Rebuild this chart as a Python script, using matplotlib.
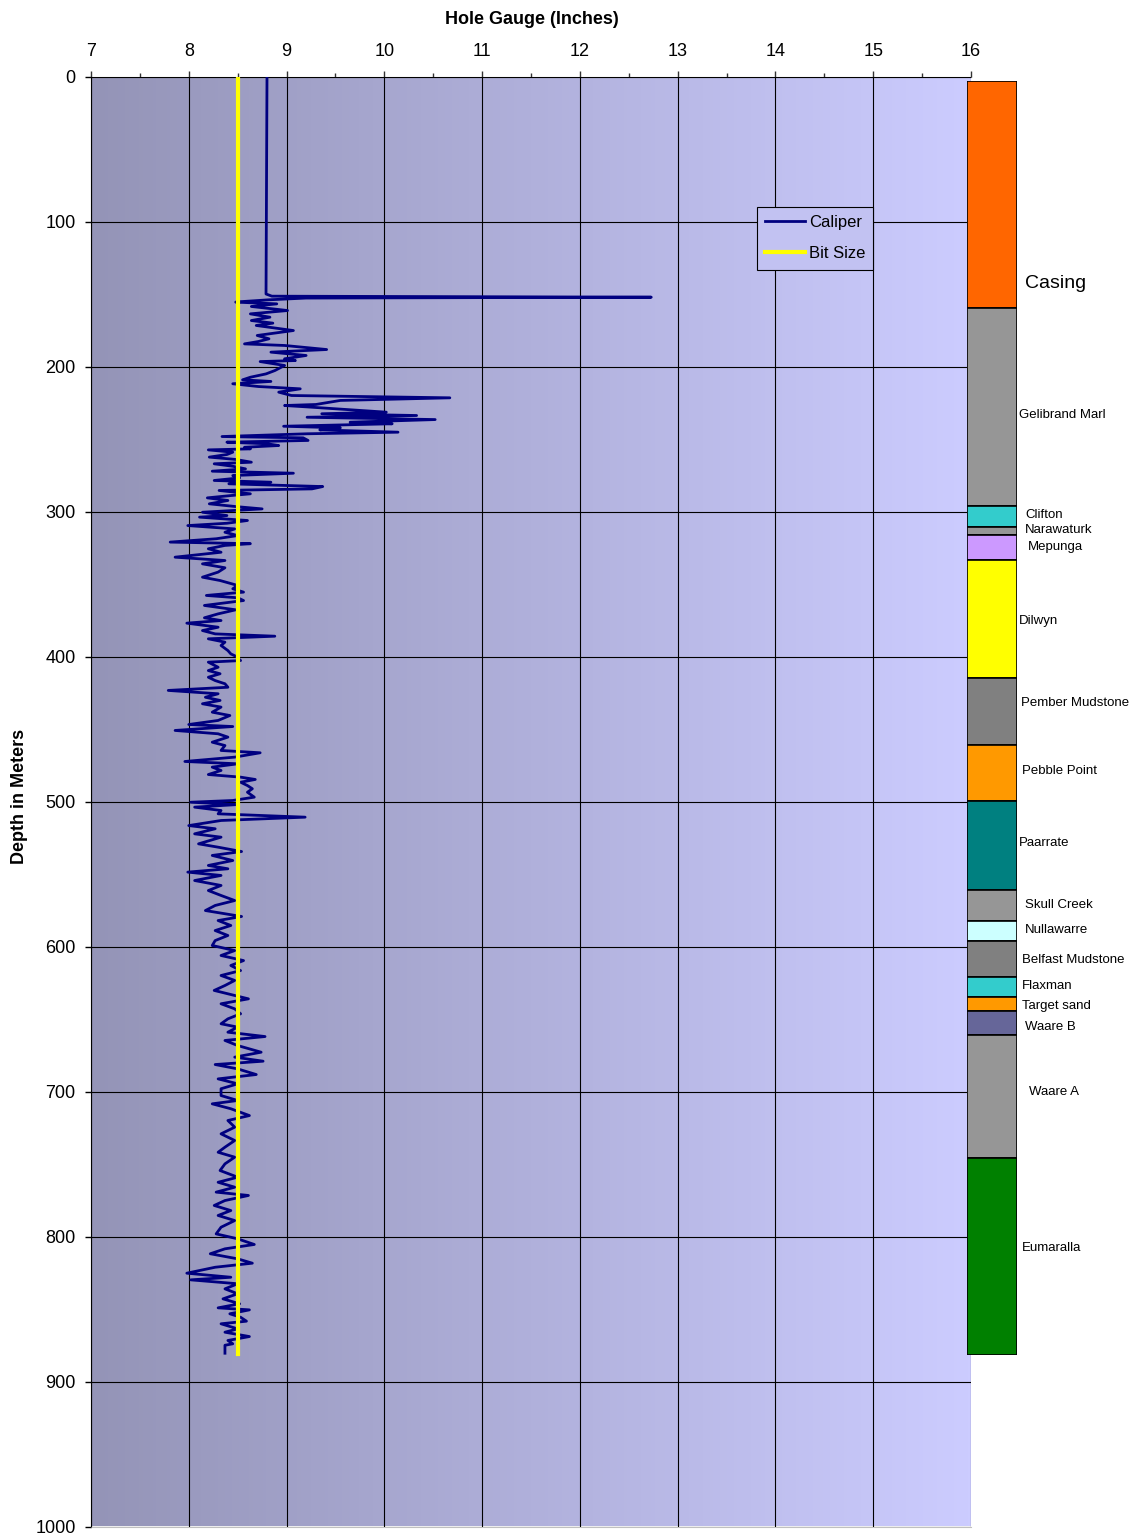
import numpy as np
import matplotlib
matplotlib.use("Agg")
import matplotlib.pyplot as plt

plt.rcParams['font.family'] = ['Liberation Sans', 'DejaVu Sans']

# caliper log: depth (m) and hole gauge (inches)
caliper_depth = [
    0, 150, 151.5, 152.2, 152.8, 154.0, 155.2, 155.6, 156.8, 158.6, 161.4, 163.7, 166.0, 168.3,
    170.1, 171.7, 175.2, 178.6, 180.9, 182.8, 184.4, 185.5, 188.3, 190.1, 192.4, 194.7, 195.9,
    196.6, 199.3, 202.8, 205.1, 207.4, 209.2, 210.3, 211.9, 213.8, 215.4, 217.7, 220.0, 221.6,
    223.4, 226.2, 226.9, 228.0, 231.5, 232.6, 233.8, 235.0, 236.6, 238.4, 239.5, 241.2, 242.3,
    243.7, 245.3, 246.4, 248.3, 249.2, 251.0, 252.2, 253.3, 254.5, 255.7, 256.8, 257.5, 259.1,
    260.7, 262.5, 264.1, 266.0, 267.1, 268.8, 270.6, 272.2, 273.6, 275.2, 276.8, 278.6, 279.8,
    280.9, 282.8, 284.4, 285.5, 287.8, 289.0, 290.6, 292.4, 294.7, 296.6, 298.2, 300.5, 302.8,
    303.9, 306.2, 308.1, 309.7, 312.0, 314.3, 316.6, 318.8, 321.1, 322.2, 323.4, 325.7, 328.1,
    331.5, 333.8, 336.1, 338.8, 341.8, 345.3, 347.6, 351.0, 353.3, 355.6, 357.9, 359.5, 361.4,
    364.8, 367.8, 370.6, 373.3, 375.2, 377.0, 379.8, 382.1, 384.4, 386.0, 387.8, 390.1, 392.4,
    395.9, 398.2, 399.8, 402.8, 403.9, 407.4, 409.7, 411.9, 414.3, 416.6, 418.8, 421.2, 423.4,
    425.7, 428.1, 430.3, 432.6, 434.9, 438.4, 440.7, 444.1, 446.9, 448.3, 451.0, 453.3, 455.6,
    459.1, 461.4, 464.8, 466.4, 469.4, 472.4, 474.0, 476.3, 478.6, 481.4, 483.2, 484.8, 486.7,
    489.0, 491.2, 493.6, 497.0, 499.3, 500.5, 502.1, 503.9, 506.2, 508.5, 510.8, 513.1, 516.6,
    518.8, 522.3, 524.6, 529.2, 531.5, 534.5, 537.2, 540.7, 544.1, 546.4, 548.7, 551.0, 554.5,
    557.9, 561.4, 564.8, 568.3, 571.7, 575.2, 579.3, 582.1, 585.5, 589.0, 592.4, 595.9, 599.3,
    602.8, 606.2, 609.7, 613.1, 616.6, 620.0, 623.4, 626.9, 630.3, 633.8, 636.1, 639.5, 643.0,
    646.4, 649.9, 653.3, 655.6, 659.1, 662.1, 664.8, 668.3, 672.9, 676.3, 679.1, 681.4, 684.4,
    688.3, 691.3, 694.7, 698.1, 702.8, 706.2, 708.5, 711.9, 716.6, 720.0, 724.6, 729.2, 733.8,
    738.4, 741.9, 745.3, 749.9, 754.5, 759.1, 762.6, 766.0, 769.4, 771.7, 775.2, 778.6, 782.1,
    785.5, 789.0, 793.6, 798.2, 801.6, 805.5, 808.5, 811.9, 815.4, 818.4, 821.2, 825.3, 828.1,
    829.9, 832.6, 836.1, 839.5, 843.0, 846.4, 849.2, 850.6, 853.3, 855.7, 858.4, 860.2, 863.7,
    866.0, 869.0, 871.7, 874.0, 875.0, 880.5,
]
caliper_gauge = [
    8.80, 8.79, 8.85, 12.73, 9.20, 8.82, 8.55, 8.48, 8.90, 8.64, 9.01, 8.63, 8.83, 8.64,
    8.86, 8.69, 9.07, 8.70, 8.82, 8.71, 8.57, 8.98, 9.41, 8.84, 9.20, 8.98, 9.09,
    8.73, 8.98, 8.88, 8.79, 8.63, 8.55, 8.84, 8.45, 8.71, 9.14, 8.92, 9.05, 10.67,
    9.55, 9.30, 8.98, 9.24, 10.02, 9.36, 10.33, 9.21, 10.52, 9.65, 10.08, 8.97, 9.55,
    9.34, 10.14, 9.21, 8.34, 9.17, 9.22, 8.39, 8.80, 8.92, 8.57, 8.63, 8.20, 8.45,
    8.39, 8.21, 8.48, 8.64, 8.26, 8.45, 8.58, 8.24, 9.07, 8.45, 8.52, 8.26, 8.84,
    8.41, 9.37, 9.26, 8.31, 8.63, 8.43, 8.19, 8.40, 8.21, 8.48, 8.75, 8.14, 8.39,
    8.11, 8.60, 8.39, 7.99, 8.47, 8.37, 8.50, 8.28, 7.81, 8.63, 8.37, 8.20, 8.33,
    7.86, 8.37, 8.14, 8.37, 8.30, 8.14, 8.32, 8.50, 8.45, 8.56, 8.18, 8.50, 8.56,
    8.16, 8.48, 8.30, 8.16, 8.33, 7.98, 8.30, 8.14, 8.27, 8.88, 8.20, 8.37, 8.33,
    8.40, 8.43, 8.48, 8.53, 8.20, 8.30, 8.20, 8.32, 8.20, 8.27, 8.37, 8.40, 7.79,
    8.30, 8.17, 8.32, 8.14, 8.33, 8.24, 8.42, 8.30, 8.00, 8.45, 7.86, 8.30, 8.40,
    8.24, 8.37, 8.33, 8.73, 8.47, 7.96, 8.50, 8.24, 8.33, 8.20, 8.53, 8.68, 8.53,
    8.60, 8.65, 8.60, 8.67, 8.45, 8.02, 8.50, 8.06, 8.33, 8.30, 9.19, 8.33, 8.00,
    8.27, 8.06, 8.33, 8.10, 8.30, 8.54, 8.24, 8.45, 8.20, 8.40, 7.99, 8.33, 8.06,
    8.33, 8.20, 8.33, 8.47, 8.27, 8.17, 8.54, 8.30, 8.43, 8.27, 8.40, 8.27, 8.24,
    8.47, 8.33, 8.56, 8.43, 8.53, 8.33, 8.47, 8.37, 8.26, 8.47, 8.61, 8.33, 8.47,
    8.53, 8.40, 8.33, 8.50, 8.40, 8.78, 8.37, 8.50, 8.74, 8.47, 8.76, 8.27, 8.50,
    8.69, 8.30, 8.50, 8.33, 8.33, 8.50, 8.24, 8.43, 8.62, 8.40, 8.47, 8.33, 8.47,
    8.37, 8.30, 8.47, 8.37, 8.32, 8.50, 8.30, 8.47, 8.28, 8.61, 8.37, 8.26, 8.43,
    8.30, 8.47, 8.33, 8.28, 8.50, 8.67, 8.37, 8.22, 8.50, 8.65, 8.27, 7.98, 8.43,
    8.02, 8.50, 8.37, 8.50, 8.35, 8.52, 8.30, 8.62, 8.42, 8.53, 8.59, 8.33, 8.50,
    8.37, 8.62, 8.40, 8.45, 8.37, 8.37,
]

bit_size = 8.5
bit_depth = [0, 881]

# lithology column (own depth scale, 0-880)
formations = ["Casing", "Gelibrand Marl", "Clifton", "Narawaturk", "Mepunga", "Dilwyn",
              "Pember Mudstone", "Pebble Point", "Paarrate", "Skull Creek", "Nullawarre",
              "Belfast Mudstone", "Flaxman", "Target sand", "Waare B", "Waare A", "Eumaralla"]
form_top = [0, 156.8, 293.6, 308.0, 313.6, 330.9, 412.4, 458.7, 497.3, 558.8, 580.2,
            594.0, 618.9, 632.7, 642.4, 659.0, 744.0]
form_base = form_top[1:] + [880.0]
form_colors = ["#FF6600", "#969696", "#33CCCC", "#969696", "#CC99FF", "#FFFF00",
               "#808080", "#FF9900", "#008080", "#969696", "#CCFFFF",
               "#808080", "#33CCCC", "#FF9900", "#666699", "#969696", "#008000"]
label_depth = [140.2, 230.7, 299.8, 310.1, 321.9, 373.0, 429.6, 476.6, 526.4, 569.2,
               586.5, 607.2, 625.1, 638.9, 653.4, 698.3, 806.1]
label_px = [1025, 1019, 1025, 1025, 1028, 1019, 1021, 1022, 1019, 1025, 1025,
            1022, 1022, 1022, 1025, 1029, 1022]

W, H = 1138, 1535
fig = plt.figure(figsize=(W / 100, H / 100), dpi=100)

ax = fig.add_axes([91 / W, (H - 1526.5) / H, 880 / W, 1450 / H])
ax.set_xlim(7, 16)
ax.set_ylim(1000, 0)

# background gradient
grad = np.linspace(0, 1, 256)
left_c = np.array([148, 148, 183]) / 255
right_c = np.array([204, 204, 255]) / 255
img = left_c[None, None, :] * (1 - grad[None, :, None]) + right_c[None, None, :] * grad[None, :, None]
ax.imshow(img, extent=[7, 16, 1000, 0], aspect='auto', zorder=0)

ax.set_xticks(np.arange(7, 17, 1))
ax.set_xticks(np.arange(7.5, 16, 1), minor=True)
ax.set_yticks(np.arange(0, 1001, 100))
ax.grid(True, which='major', color='black', linewidth=0.8, zorder=1)
ax.set_axisbelow(False)
ax.xaxis.tick_top()
ax.tick_params(axis='x', which='major', direction='out', length=4, width=1, pad=8,
               labelsize=13, color='#333333')
ax.tick_params(axis='x', which='minor', direction='out', length=3, width=1, color='#333333')
ax.tick_params(axis='y', which='major', direction='out', length=4, width=1, pad=7, labelsize=13)
ax.spines['top'].set_color('#808080')
ax.spines['left'].set_color('black')
ax.spines['bottom'].set_color('#c0c0c0')
ax.spines['right'].set_visible(False)

ax.plot(caliper_gauge, caliper_depth, color='#000080', linewidth=2.0, label='Caliper', zorder=3)
ax.plot([bit_size, bit_size], bit_depth, color='#FFFF00', linewidth=3, label='Bit Size', zorder=4)

leg = ax.legend(loc='upper left', bbox_to_anchor=(757 / W, 1 - 207 / H),
                bbox_transform=fig.transFigure, fontsize=12, fancybox=False,
                framealpha=1, facecolor='#C2C2F2', edgecolor='black',
                handlelength=2.4, handletextpad=0.2, borderpad=0.5, labelspacing=0.95,
                borderaxespad=0)
leg.get_frame().set_linewidth(0.8)

fig.text(532 / W, 1 - 19 / H, 'Hole Gauge (Inches)', ha='center', va='center',
         fontsize=13, fontweight='bold')
fig.text(20 / W, 1 - 796 / H, 'Depth in Meters', ha='center', va='center',
         rotation=90, fontsize=13, fontweight='bold')

# lithology column
axc = fig.add_axes([967 / W, (H - 1355) / H, 50 / W, 1274 / H])
axc.set_xlim(0, 1)
axc.set_ylim(880, 0)
heights = [b - t for t, b in zip(form_top, form_base)]
axc.bar([0.5] * len(formations), heights, bottom=form_top, width=1.0,
        color=form_colors, edgecolor='black', linewidth=1.2)
axc.axis('off')

trans = axc.get_yaxis_transform()
for name, d, px in zip(formations, label_depth, label_px):
    size = 14 if name == "Casing" else 9.5
    axc.text((px - 967) / 50, d, name, transform=trans, ha='left', va='center',
             fontsize=size, clip_on=False)

fig.savefig('out.png', dpi=100)
